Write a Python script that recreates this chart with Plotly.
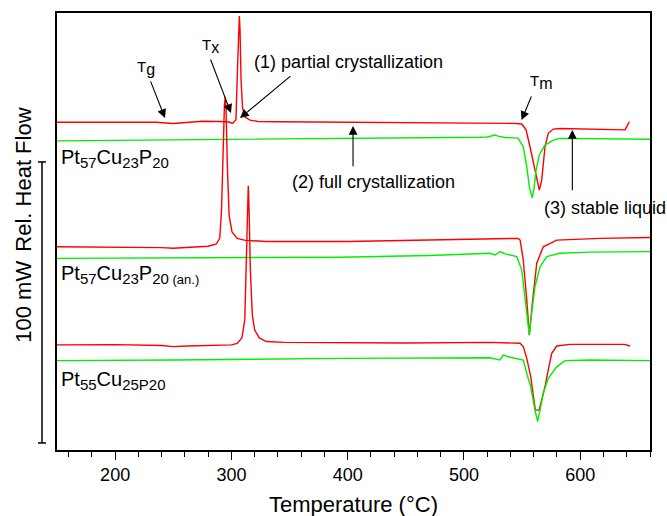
import plotly.graph_objects as go

# ---- DSC traces (temperature in degC, relative heat flow in mW) ----
# Pt57Cu23P20, first heating
temp_a1 = [150, 200, 235, 250, 262, 275, 290, 298, 301, 303.9, 305.2, 306.1, 306.8, 307.4,
           308.3, 309.6, 311.7, 316, 322.9, 340, 400, 456, 500, 545, 549.7, 553.4, 556.8,
           561.1, 563.3, 564.8, 566.9, 569.7, 572.5, 576.8, 582.6, 599.8, 625.6, 638.5,
           639.8, 642.2]
hf_a1 = [116.6, 116.7, 116.6, 116.2, 116.5, 117.0, 116.9, 116.7, 116.2, 117.5, 135.2, 149.5,
         154.4, 149.5, 131.7, 121.7, 118.5, 117.4, 116.9, 116.8, 116.7, 116.6, 116.3, 116.2,
         116.0, 113.9, 107.9, 99.6, 94.7, 92.5, 96.1, 107.9, 112.7, 114.2, 114.4, 114.2,
         113.9, 113.9, 114.9, 116.8]
# Pt57Cu23P20, second heating
temp_a2 = [150, 250, 350, 450, 513.8, 520, 526.7, 530, 535.3, 546.5, 551.0, 554.0, 556.4,
           558.8, 560.3, 562.0, 564.8, 569.7, 576.9, 582.6, 620, 660]
hf_a2 = [110.0, 110.3, 110.7, 111.0, 111.3, 111.4, 112.1, 111.6, 111.2, 111.0, 107.9, 100.8,
         93.2, 89.7, 93.2, 99.6, 105.0, 108.5, 110.3, 110.9, 110.8, 110.6]

# Pt57Cu23P20 (annealed), first heating
temp_b1 = [150, 200, 240, 250, 262, 280, 287, 290, 291.5, 292.8, 294, 294.7, 295.4, 296.5,
           298, 300.5, 305, 312, 330, 400, 500, 540, 546.5, 548.3, 551.0, 554.0, 556.2,
           559.1, 562.6, 568.2, 579.8, 617, 660]
hf_b1 = [72.3, 72.2, 72.0, 71.8, 72.0, 72.5, 73.3, 75.4, 85.4, 106.8, 122.8, 125.7, 121.0,
         101.4, 83.6, 77.6, 75.3, 74.6, 74.2, 74.2, 74.9, 75.4, 75.3, 74.7, 67.6, 53.4, 40.9,
         53.4, 66.5, 72.3, 74.7, 75.3, 75.6]
# Pt57Cu23P20 (annealed), second heating
temp_b2 = [150, 250, 393, 470, 515, 522.4, 526.7, 531.0, 535.3, 545.4, 549.7, 552.5, 555.3,
           556.2, 558.2, 561.1, 565.4, 571.2, 582.6, 608.4, 660]
hf_b2 = [68.2, 68.3, 68.6, 69.2, 69.8, 70.0, 69.4, 70.6, 69.8, 68.8, 64.1, 54.6, 43.9, 40.9,
         48.6, 58.1, 65.2, 68.8, 70.0, 70.4, 70.6]

# Pt55Cu25P20, first heating
temp_c1 = [150, 200, 240, 250, 262, 285, 300, 305, 309, 311.5, 313, 314, 314.5, 315.2, 316.3,
           318, 320, 324, 330, 345, 450, 522.4, 548.2, 551.0, 554.0, 557.4, 559.6, 561.4,
           564.6, 566.9, 569.7, 572.5, 575.5, 579.8, 591.2, 608.4, 638, 642.8]
hf_c1 = [37.4, 37.5, 37.2, 36.8, 37.0, 37.4, 37.4, 37.9, 39.9, 46.3, 67.6, 89.0, 94.0, 85.4,
         64.1, 48.0, 42.7, 39.9, 38.6, 38.3, 38.1, 38.3, 38.0, 36.8, 32.6, 26.1, 19.0, 14.2,
         14.2, 17.8, 22.5, 28.5, 34.4, 37.0, 37.6, 37.6, 37.6, 37.0]
# Pt55Cu25P20, second heating
temp_c2 = [150, 250, 393.4, 522.4, 531.0, 533.8, 539.6, 551.0, 554.0, 557.4, 561.1, 563.4,
           565.4, 568.2, 572.5, 579.8, 586.9, 608.4, 660]
hf_c2 = [31.8, 32.0, 32.6, 32.8, 32.0, 33.8, 33.0, 32.0, 27.3, 22.5, 14.2, 10.1, 14.2, 20.2,
         25.5, 29.6, 31.8, 32.0, 31.8]


def sub(s, px):
    """Subscript with an explicit glyph size."""
    return f"<sub><span style='font-size:{px}px'>{s}</span></sub>"


# sample names shown next to each pair of traces
sample_labels = ["Pt" + sub("57", 15) + "Cu" + sub("23", 15) + "P" + sub("20", 15),
                 "Pt" + sub("57", 15) + "Cu" + sub("23", 15) + "P" + sub("20", 15)
                 + sub(" (an.)", 13),
                 "Pt" + sub("55", 15) + "Cu" + sub("25P20", 15)]
sample_label_y = [103.9, 62.3, 24.9]

# vertical scale bar
scale_bar_mw = 100
scale_bar_base = 2.5

x_range = [150, 660]
y_range = [0, 155.5]
x_ticks = [200, 300, 400, 500, 600]

RED = "#ff0000"
GREEN = "#00f000"
FONT = "Arial, Liberation Sans, sans-serif"

fig = go.Figure()
pairs = [(temp_a1, hf_a1, RED), (temp_a2, hf_a2, GREEN),
         (temp_b1, hf_b1, RED), (temp_b2, hf_b2, GREEN),
         (temp_c1, hf_c1, RED), (temp_c2, hf_c2, GREEN)]
for t, h, c in pairs:
    fig.add_trace(go.Scatter(x=t, y=h, mode="lines", line=dict(color=c, width=1.4),
                             showlegend=False, hoverinfo="skip"))

ann = []
for txt, yv in zip(sample_labels, sample_label_y):
    ann.append(dict(x=152, y=yv, xref="x", yref="y", text=txt, showarrow=False,
                    xanchor="left", yanchor="middle", font=dict(size=20, color="black")))

# text labels
texts = [
    ("T" + sub("g", 16), 226.5, 135.9, "center", 15),
    ("T" + sub("x", 16), 281.6, 143.8, "center", 15),
    ("T" + sub("m", 16), 567.1, 131.0, "center", 15),
    ("(1) partial crystallization", 317.7, 138.1, "left", 18),
    ("(2) full crystallization", 350.4, 95.4, "left", 18),
    ("(3) stable liquid", 566.8, 86.1, "left", 18),
]
for txt, xv, yv, anc, fs in texts:
    ann.append(dict(x=xv, y=yv, xref="x", yref="y", text=txt, showarrow=False,
                    xanchor=anc, yanchor="middle", font=dict(size=fs, color="black")))

# arrows: (tail x, tail y, head x, head y)
arrows = [
    (230.0, 131.7, 242.9, 118.1),
    (281.6, 139.5, 299.6, 119.9),
    (352.1, 133.5, 307.4, 118.1),
    (558.5, 126.3, 549.5, 117.4),
    (404.6, 100.4, 404.6, 115.3),
    (593.2, 91.9, 593.2, 113.9),
]
for ax_, ay_, hx, hy in arrows:
    ann.append(dict(x=hx, y=hy, ax=ax_, ay=ay_, xref="x", yref="y", axref="x", ayref="y",
                    text="", showarrow=True, arrowhead=2, arrowsize=1.6, arrowwidth=1.1,
                    arrowcolor="black", standoff=0, startstandoff=0))

# axis titles
ann.append(dict(x=0.5, y=-(504 - 450) / 437, xref="paper", yref="paper",
                text="Temperature (°C)", showarrow=False, xanchor="center",
                yanchor="middle", font=dict(size=22, color="black")))
ann.append(dict(x=-0.057, y=(450 - 179.5) / 437, xref="paper", yref="paper",
                text="Rel. Heat Flow", textangle=-90, showarrow=False,
                xanchor="center", yanchor="middle", font=dict(size=22, color="black")))
ann.append(dict(x=-0.057, y=(450 - 301.5) / 437, xref="paper", yref="paper",
                text="100 mW", textangle=-90, showarrow=False,
                xanchor="center", yanchor="middle", font=dict(size=22, color="black")))

bar_x = -15 / 593
cap = 4 / 593
shapes = [
    dict(type="line", xref="paper", yref="y", x0=bar_x, x1=bar_x,
         y0=scale_bar_base, y1=scale_bar_base + scale_bar_mw,
         line=dict(color="black", width=1.5)),
    dict(type="line", xref="paper", yref="y", x0=bar_x - cap, x1=bar_x + cap,
         y0=scale_bar_base, y1=scale_bar_base, line=dict(color="black", width=1.5)),
    dict(type="line", xref="paper", yref="y", x0=bar_x - cap, x1=bar_x + cap,
         y0=scale_bar_base + scale_bar_mw, y1=scale_bar_base + scale_bar_mw,
         line=dict(color="black", width=1.5)),
]

fig.update_layout(
    width=667, height=516,
    margin=dict(l=57, r=17, t=13, b=66),
    paper_bgcolor="white", plot_bgcolor="white",
    font=dict(family=FONT, color="black"),
    annotations=ann, shapes=shapes,
    xaxis=dict(range=x_range, tickvals=x_ticks, ticks="outside", ticklen=8, tickwidth=1.3,
               tickcolor="black", showline=True, linecolor="black", linewidth=1.5,
               mirror=True, showgrid=False, zeroline=False,
               tickfont=dict(size=18, color="black"),
               minor=dict(dtick=20, tick0=0, ticks="outside", ticklen=5, tickwidth=1.1,
                          tickcolor="black", showgrid=False)),
    yaxis=dict(range=y_range, showticklabels=False, ticks="", showline=True,
               linecolor="black", linewidth=1.5, mirror=True, showgrid=False,
               zeroline=False),
)

fig.write_html("out.html")
